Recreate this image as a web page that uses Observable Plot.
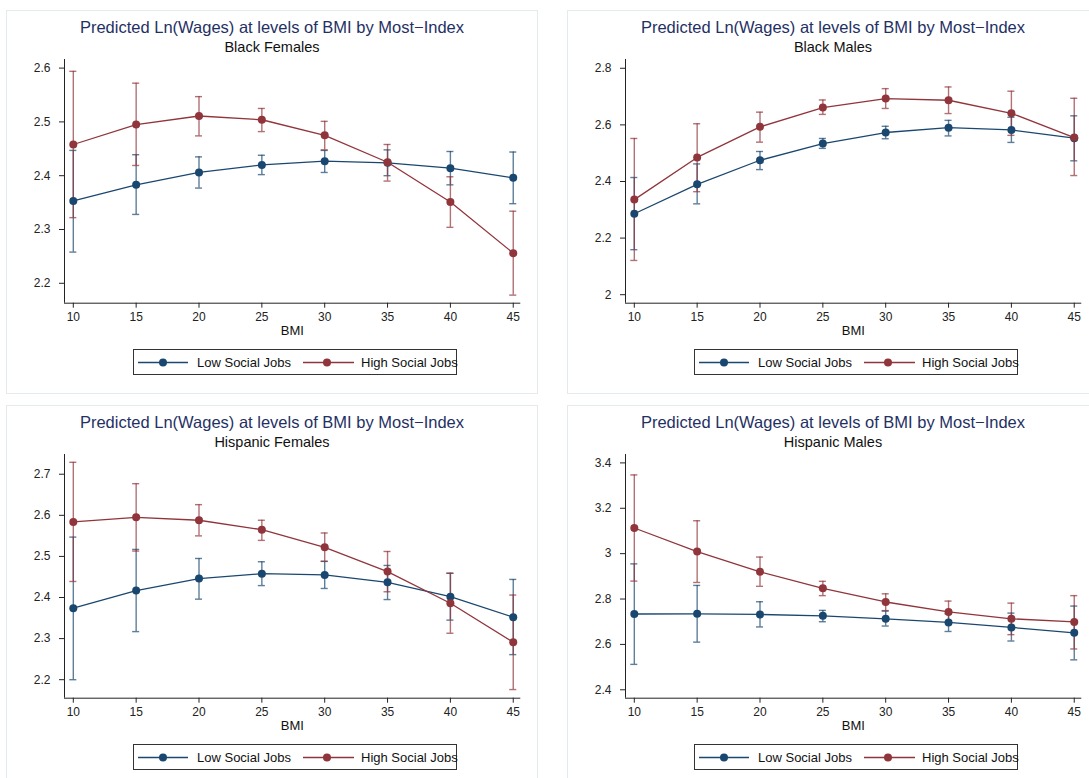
<!DOCTYPE html>
<html>
<head>
<meta charset="utf-8">
<script src="https://cdn.jsdelivr.net/npm/d3@7"></script>
<script src="https://cdn.jsdelivr.net/npm/@observablehq/plot@0.6"></script>
<style>
  html, body { margin: 0; padding: 0; background: #ffffff; }
  #root { position: relative; width: 1089px; height: 778px; overflow: hidden; background: #ffffff;
          font-family: "Liberation Sans", Arial, Helvetica, sans-serif; }
  .panel { position: absolute; box-sizing: border-box; border: 1px solid #e4ebee; background: #ffffff; }
  .title { position: absolute; white-space: nowrap; line-height: 1; font-size: 16.5px; color: #1f3164; transform: translateX(-50%); }
  .subtitle { position: absolute; white-space: nowrap; line-height: 1; font-size: 14.5px; color: #111; transform: translateX(-50%); }
  .xlab { position: absolute; white-space: nowrap; line-height: 1; font-size: 13px; color: #111; transform: translateX(-50%); }
  .legbox { position: absolute; box-sizing: border-box; border: 1px solid #333; background: #fff; }
  .legtxt { position: absolute; white-space: nowrap; line-height: 1; font-size: 13px; color: #111; }
  .plotwrap { position: absolute; }
  .plotwrap svg { overflow: visible; }
</style>
</head>
<body>
<div id="root"></div>
<script>
// ---------- data ----------
const bmi = [10, 15, 20, 25, 30, 35, 40, 45];
const bmiTicks = [10, 15, 20, 25, 30, 35, 40, 45];
const seriesNames = ["Low Social Jobs", "High Social Jobs"];

// Black Females
const bfLow    = [2.353, 2.383, 2.406, 2.420, 2.427, 2.424, 2.414, 2.396];
const bfLowLo  = [2.258, 2.328, 2.377, 2.402, 2.406, 2.400, 2.383, 2.348];
const bfLowHi  = [2.447, 2.439, 2.435, 2.438, 2.447, 2.448, 2.445, 2.444];
const bfHigh   = [2.458, 2.495, 2.511, 2.504, 2.475, 2.425, 2.351, 2.256];
const bfHighLo = [2.322, 2.419, 2.474, 2.482, 2.448, 2.390, 2.304, 2.178];
const bfHighHi = [2.594, 2.572, 2.547, 2.525, 2.501, 2.458, 2.398, 2.334];
const bfTicks  = [2.2, 2.3, 2.4, 2.5, 2.6];

// Black Males
const bmLow    = [2.286, 2.390, 2.475, 2.534, 2.573, 2.590, 2.582, 2.553];
const bmLowLo  = [2.159, 2.321, 2.442, 2.517, 2.551, 2.561, 2.538, 2.473];
const bmLowHi  = [2.414, 2.462, 2.506, 2.552, 2.595, 2.616, 2.627, 2.632];
const bmHigh   = [2.336, 2.485, 2.593, 2.661, 2.693, 2.687, 2.641, 2.555];
const bmHighLo = [2.121, 2.364, 2.539, 2.637, 2.658, 2.640, 2.563, 2.421];
const bmHighHi = [2.552, 2.604, 2.645, 2.688, 2.728, 2.734, 2.719, 2.694];
const bmTicks  = [2, 2.2, 2.4, 2.6, 2.8];

// Hispanic Females
const hfLow    = [2.374, 2.417, 2.446, 2.458, 2.455, 2.437, 2.402, 2.352];
const hfLowLo  = [2.200, 2.317, 2.396, 2.429, 2.422, 2.395, 2.345, 2.261];
const hfLowHi  = [2.547, 2.517, 2.495, 2.487, 2.488, 2.478, 2.459, 2.444];
const hfHigh   = [2.584, 2.595, 2.588, 2.565, 2.522, 2.463, 2.386, 2.291];
const hfHighLo = [2.439, 2.513, 2.550, 2.539, 2.488, 2.414, 2.313, 2.176];
const hfHighHi = [2.729, 2.677, 2.626, 2.588, 2.557, 2.512, 2.459, 2.406];
const hfTicks  = [2.2, 2.3, 2.4, 2.5, 2.6, 2.7];

// Hispanic Males
const hmLow    = [2.734, 2.735, 2.732, 2.726, 2.713, 2.697, 2.675, 2.651];
const hmLowLo  = [2.512, 2.610, 2.677, 2.700, 2.681, 2.657, 2.615, 2.532];
const hmLowHi  = [2.955, 2.860, 2.788, 2.750, 2.747, 2.735, 2.738, 2.769];
const hmHigh   = [3.113, 3.009, 2.920, 2.847, 2.787, 2.743, 2.713, 2.699];
const hmHighLo = [2.879, 2.873, 2.856, 2.815, 2.749, 2.697, 2.643, 2.580];
const hmHighHi = [3.347, 3.145, 2.985, 2.878, 2.823, 2.791, 2.782, 2.815];
const hmTicks  = [2.4, 2.6, 2.8, 3, 3.2, 3.4];

const mainTitle = "Predicted Ln(Wages) at levels of BMI by Most\u2212Index";
const xLabel = "BMI";

// ---------- layout ----------
const colors = ["#1a476f", "#90353b"];
const root = document.getElementById("root");

const panels = [
  { sub: "Black Females",    ox: 6,   oy: 10,  yDomain: [2.163, 2.616], ticks: bfTicks,
    s: [[bfLow, bfLowLo, bfLowHi], [bfHigh, bfHighLo, bfHighHi]] },
  { sub: "Black Males",      ox: 567, oy: 10,  yDomain: [1.970, 2.831], ticks: bmTicks,
    s: [[bmLow, bmLowLo, bmLowHi], [bmHigh, bmHighLo, bmHighHi]] },
  { sub: "Hispanic Females", ox: 6,   oy: 405, yDomain: [2.155, 2.748], ticks: hfTicks,
    s: [[hfLow, hfLowLo, hfLowHi], [hfHigh, hfHighLo, hfHighHi]] },
  { sub: "Hispanic Males",   ox: 567, oy: 405, yDomain: [2.363, 3.437], ticks: hmTicks,
    s: [[hmLow, hmLowLo, hmLowHi], [hmHigh, hmHighLo, hmHighHi]] }
];

const xDomain = [9.3, 45.6];
const mL = 58, mR = 10, mT = 9, mB = 30;

function el(cls, css, text) {
  const d = document.createElement("div");
  d.className = cls;
  Object.assign(d.style, css);
  if (text != null) d.textContent = text;
  root.appendChild(d);
  return d;
}

panels.forEach(p => {
  const ox = p.ox, oy = p.oy;
  el("panel", { left: ox + "px", top: oy + "px", width: "532px", height: "384px" });
  const cx = ox + 266;
  el("title", { left: cx + "px", top: (oy + 9) + "px" }, mainTitle);
  el("subtitle", { left: cx + "px", top: (oy + 30) + "px" }, p.sub);

  // frame box (absolute)
  const fl = ox + 58.2, fr = ox + 514.5, ft = oy + 49, fb = oy + 292.7;
  const W = (fr - fl) + mL + mR, H = (fb - ft) + mT + mB;

  const rows = [];
  p.s.forEach((ser, g) => {
    bmi.forEach((b, i) => rows.push({ bmi: b, g, y: ser[0][i], lo: ser[1][i], hi: ser[2][i] }));
  });

  const marks = [];
  [0, 1].forEach(g => {
    const d = rows.filter(r => r.g === g);
    marks.push(Plot.ruleX(d, { x: "bmi", y1: "lo", y2: "hi", stroke: colors[g], strokeOpacity: 0.7, strokeWidth: 1.4 }));
    marks.push(Plot.ruleY(d, { y: "lo", x1: r => r.bmi - 0.28, x2: r => r.bmi + 0.28, stroke: colors[g], strokeOpacity: 0.7, strokeWidth: 1.4 }));
    marks.push(Plot.ruleY(d, { y: "hi", x1: r => r.bmi - 0.28, x2: r => r.bmi + 0.28, stroke: colors[g], strokeOpacity: 0.7, strokeWidth: 1.4 }));
  });
  [0, 1].forEach(g => {
    const d = rows.filter(r => r.g === g);
    marks.push(Plot.line(d, { x: "bmi", y: "y", stroke: colors[g], strokeWidth: 1.3 }));
  });
  [0, 1].forEach(g => {
    const d = rows.filter(r => r.g === g);
    marks.push(Plot.dot(d, { x: "bmi", y: "y", fill: colors[g], r: 4 }));
  });
  marks.push(Plot.ruleX([xDomain[0]], { stroke: "#222", strokeWidth: 1 }));
  marks.push(Plot.ruleY([p.yDomain[0]], { stroke: "#222", strokeWidth: 1 }));

  const chart = Plot.plot({
    width: W, height: H,
    marginLeft: mL, marginRight: mR, marginTop: mT, marginBottom: mB,
    x: { domain: xDomain, ticks: bmiTicks, tickSize: 5, tickPadding: 4, label: null, tickFormat: d => String(d) },
    y: { domain: p.yDomain, ticks: p.ticks, tickSize: 5, tickPadding: 9, label: null, tickFormat: d => String(d) },
    style: { fontFamily: "'Liberation Sans', Arial, sans-serif", fontSize: "12px", color: "#222", background: "transparent", overflow: "visible" },
    marks
  });
  const wrap = el("plotwrap", { left: (fl - mL) + "px", top: (ft - mT) + "px", width: W + "px", height: H + "px" });
  wrap.appendChild(chart);

  // x axis title
  el("xlab", { left: ((fl + fr) / 2) + "px", top: (oy + 313.5) + "px" }, xLabel);

  // legend
  const lx = ox + 127, ly = oy + 338.7;
  el("legbox", { left: lx + "px", top: ly + "px", width: "324px", height: "26.3px" });
  const legSvg = document.createElementNS("http://www.w3.org/2000/svg", "svg");
  legSvg.setAttribute("width", "324");
  legSvg.setAttribute("height", "26");
  legSvg.style.position = "absolute";
  legSvg.style.left = lx + "px";
  legSvg.style.top = ly + "px";
  const sw = [[5, 55, 30], [170, 221, 194]];
  sw.forEach((s, g) => {
    const line = document.createElementNS("http://www.w3.org/2000/svg", "line");
    line.setAttribute("x1", s[0]); line.setAttribute("x2", s[1]);
    line.setAttribute("y1", 13.5); line.setAttribute("y2", 13.5);
    line.setAttribute("stroke", colors[g]); line.setAttribute("stroke-width", 1.3);
    legSvg.appendChild(line);
    const c = document.createElementNS("http://www.w3.org/2000/svg", "circle");
    c.setAttribute("cx", s[2]); c.setAttribute("cy", 13.5); c.setAttribute("r", 4);
    c.setAttribute("fill", colors[g]);
    legSvg.appendChild(c);
  });
  root.appendChild(legSvg);
  el("legtxt", { left: (lx + 64) + "px", top: (ly + 7.5) + "px" }, seriesNames[0]);
  el("legtxt", { left: (lx + 228) + "px", top: (ly + 7.5) + "px" }, seriesNames[1]);
});
</script>
</body>
</html>
